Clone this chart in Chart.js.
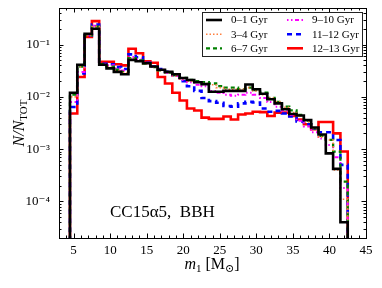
<!DOCTYPE html>
<html lang="en">
<head>
<meta charset="UTF-8">
<title>CC15a5 BBH m1</title>
<script src="https://cdn.jsdelivr.net/npm/chart.js"></script>
<style>
  html, body { margin: 0; padding: 0; background: #fff; }
  canvas { display: block; }
</style>
</head>
<body>
<canvas id="massChart" width="382" height="288"></canvas>
<script>
// bin centres (M_sun), one value per bin for every age slice
const massBins = [5, 6, 7, 8, 9, 10, 11, 12, 13, 14, 15, 16, 17, 18, 19, 20, 21, 22, 23,
  24, 25, 26, 27, 28, 29, 30, 31, 32, 33, 34, 35, 36, 37, 38, 39, 40, 41, 42];

const gyr0to1 = [0.012, 0.041, 0.16, 0.20, 0.041, 0.035, 0.030, 0.027, 0.051, 0.048, 0.044, 0.038,
  0.033, 0.030, 0.027, 0.023, 0.021, 0.019, 0.0175, 0.0125, 0.0125, 0.013, 0.013, 0.013, 0.0172, 0.014,
  0.0115, 0.009, 0.0075, 0.0058, 0.0047, 0.0044, 0.0036, 0.0026, 0.0019, 0.00083, 0.00042, 0.00004];
const gyr3to4 = [0.010, 0.037, 0.15, 0.22, 0.041, 0.037, 0.032, 0.029, 0.054, 0.049, 0.043, 0.037,
  0.032, 0.029, 0.025, 0.022, 0.020, 0.019, 0.018, 0.017, 0.015, 0.014, 0.014, 0.014, 0.015, 0.013,
  0.011, 0.0095, 0.008, 0.0063, 0.005, 0.0043, 0.0033, 0.0025, 0.0017, 0.0015, 0.0004, 0.00011];
const gyr6to7 = [0.011, 0.038, 0.15, 0.22, 0.042, 0.038, 0.033, 0.030, 0.055, 0.050, 0.043, 0.037,
  0.032, 0.029, 0.026, 0.023, 0.021, 0.020, 0.019, 0.018, 0.016, 0.015, 0.015, 0.014, 0.015, 0.0135,
  0.012, 0.0095, 0.008, 0.0065, 0.0055, 0.0045, 0.0035, 0.0025, 0.0018, 0.0015, 0.0009, 0.00024];
const gyr9to10 = [0.008, 0.030, 0.15, 0.23, 0.042, 0.040, 0.035, 0.032, 0.058, 0.052, 0.044, 0.038,
  0.033, 0.029, 0.025, 0.021, 0.019, 0.017, 0.016, 0.013, 0.012, 0.011, 0.0105, 0.011, 0.012, 0.011,
  0.0095, 0.008, 0.0065, 0.0055, 0.0045, 0.0035, 0.0027, 0.0021, 0.0016, 0.0012, 0.0007, 0.00018];
const gyr11to12 = [0.0064, 0.028, 0.15, 0.24, 0.043, 0.042, 0.037, 0.034, 0.065, 0.057, 0.045, 0.038,
  0.034, 0.030, 0.026, 0.020, 0.016, 0.013, 0.0095, 0.0083, 0.0077, 0.0067, 0.0065, 0.0075, 0.008, 0.0078,
  0.006, 0.0052, 0.0054, 0.0048, 0.0042, 0.0034, 0.003, 0.0025, 0.0021, 0.0021, 0.0015, 0.0005];
const gyr12to13 = [0.0048, 0.024, 0.14, 0.28, 0.047, 0.047, 0.042, 0.040, 0.083, 0.068, 0.048, 0.045,
  0.024, 0.018, 0.012, 0.0085, 0.006, 0.0055, 0.004, 0.0038, 0.0038, 0.0042, 0.0037, 0.0046, 0.0048, 0.0052,
  0.0051, 0.0043, 0.005, 0.005, 0.0043, 0.0037, 0.003, 0.0024, 0.0033, 0.0033, 0.002, 0.0009];

const seriesLabels = ['0–1 Gyr', '3–4 Gyr', '6–7 Gyr', '9–10 Gyr', '11–12 Gyr', '12–13 Gyr'];
const xTickValues = [5, 10, 15, 20, 25, 30, 35, 40, 45];
const yTickValues = [1e-4, 1e-3, 1e-2, 1e-1];
const yTickLabels = ['10⁻⁴', '10⁻³', '10⁻²', '10⁻¹'];

const serif = "'Liberation Serif', 'DejaVu Serif', serif";
const looks = [
  { color: '#000000', width: 2.6, dash: [] },
  { color: '#ff8040', width: 1.6, dash: [1.5, 2] },
  { color: '#008000', width: 2.3, dash: [4, 3] },
  { color: '#ff00ff', width: 2.0, dash: [1.5, 2.5, 1.5, 2.5, 4, 2.5] },
  { color: '#0000ff', width: 2.6, dash: [5, 4] },
  { color: '#ff0000', width: 2.6, dash: [] }
];
const allSeries = [gyr0to1, gyr3to4, gyr6to7, gyr9to10, gyr11to12, gyr12to13];

// histogram outline: one point per left bin edge, closed down to the floor at both ends
function stepPoints(vals) {
  const floor = 1e-7;
  const pts = [{ x: massBins[0] - 0.5, y: floor }];
  massBins.forEach((c, i) => pts.push({ x: c - 0.5, y: vals[i] }));
  const last = massBins[massBins.length - 1] + 0.5;
  pts.push({ x: last, y: vals[vals.length - 1] });
  pts.push({ x: last, y: floor });
  return pts;
}

const datasets = allSeries.map((vals, i) => ({
  label: seriesLabels[i],
  data: stepPoints(vals),
  stepped: 'before',
  borderColor: looks[i].color,
  borderWidth: looks[i].width,
  borderDash: looks[i].dash,
  borderJoinStyle: 'miter',
  borderCapStyle: 'butt',
  pointRadius: 0,
  fill: false
}));

function drawRich(ctx, parts, x, y, align) {
  // parts: [text, size, italic, dy]
  let total = 0;
  parts.forEach(p => {
    ctx.font = (p[2] ? 'italic ' : '') + p[1] + 'px ' + serif;
    total += ctx.measureText(p[0]).width;
  });
  let cx = align === 'center' ? x - total / 2 : x;
  parts.forEach(p => {
    ctx.font = (p[2] ? 'italic ' : '') + p[1] + 'px ' + serif;
    ctx.fillText(p[0], cx, y + (p[3] || 0));
    cx += ctx.measureText(p[0]).width;
  });
}

const decorPlugin = {
  id: 'decor',
  afterDatasetsDraw(chart) {
    const { ctx, chartArea: a, scales } = chart;
    const xs = scales.x, ys = scales.y;
    ctx.save();
    ctx.strokeStyle = '#000';
    ctx.fillStyle = '#000';
    ctx.lineWidth = 1;
    ctx.setLineDash([]);

    // inward ticks on all four sides
    const tick = (x1, y1, x2, y2) => { ctx.beginPath(); ctx.moveTo(x1, y1); ctx.lineTo(x2, y2); ctx.stroke(); };
    for (let v = 3; v <= 45; v++) {
      const px = Math.round(xs.getPixelForValue(v)) + 0.5;
      const len = v % 5 === 0 ? 4.5 : 2.5;
      tick(px, a.bottom, px, a.bottom - len);
      tick(px, a.top, px, a.top + len);
    }
    for (let e = -5; e <= 0; e++) {
      for (let m = 1; m <= 9; m++) {
        const v = m * Math.pow(10, e);
        if (v < ys.min * 0.999 || v > ys.max * 1.001) continue;
        const py = Math.round(ys.getPixelForValue(v)) + 0.5;
        const len = m === 1 ? 4.5 : 2.5;
        tick(a.left, py, a.left + len, py);
        tick(a.right, py, a.right - len, py);
      }
    }
    ctx.strokeRect(Math.round(a.left) + 0.5, Math.round(a.top) + 0.5,
      Math.round(a.right - a.left), Math.round(a.bottom - a.top));

    // legend box, two columns
    ctx.fillStyle = '#fff';
    ctx.fillRect(202.5, 12.5, 160, 44);
    ctx.strokeStyle = '#222';
    ctx.strokeRect(202.5, 12.5, 160, 44);
    const cols = [206, 287], rows = [20, 34.3, 48.3];
    ctx.textBaseline = 'middle';
    ctx.textAlign = 'left';
    chart.data.datasets.forEach((ds, i) => {
      const cx = cols[Math.floor(i / 3)], cy = rows[i % 3];
      ctx.strokeStyle = ds.borderColor;
      ctx.lineWidth = ds.borderWidth;
      ctx.setLineDash(ds.borderDash);
      tick(cx, cy, cx + 16, cy);
      ctx.setLineDash([]);
      ctx.fillStyle = '#000';
      ctx.font = '11px ' + serif;
      ctx.fillText(ds.label, cx + 25, cy + 0.5);
    });

    // annotation and axis titles
    ctx.textBaseline = 'alphabetic';
    ctx.fillStyle = '#000';
    ctx.font = '17px ' + serif;
    ctx.fillText('CC15α5,  BBH', 110, 217);

    drawRich(ctx, [['m', 16, true], ['1', 11, false, 3], [' [M', 16, false], ['⊙', 11, false, 3], [']', 16, false]],
      212, 269, 'center');

    ctx.translate(24, (a.top + a.bottom) / 2);
    ctx.rotate(-Math.PI / 2);
    drawRich(ctx, [['N/N', 16, true], ['TOT', 11, false, 3]], 0, 0, 'center');
    ctx.restore();
  }
};

new Chart(document.getElementById('massChart'), {
  type: 'line',
  data: { datasets },
  options: {
    responsive: false,
    animation: false,
    devicePixelRatio: 1,
    layout: { padding: { top: 8, right: 16, left: 0, bottom: 0 } },
    plugins: { legend: { display: false }, tooltip: { enabled: false } },
    scales: {
      x: {
        type: 'linear',
        min: 3,
        max: 45,
        afterBuildTicks: s => { s.ticks = xTickValues.map(v => ({ value: v })); },
        afterFit: s => { s.height = 50; s.paddingLeft = 0; s.paddingRight = 0; },
        grid: { display: false, drawTicks: false },
        border: { display: false },
        ticks: { color: '#000', font: { family: serif, size: 13 }, padding: 5, maxRotation: 0, autoSkip: false }
      },
      y: {
        type: 'logarithmic',
        min: 2e-5,
        max: 0.5,
        afterBuildTicks: s => { s.ticks = yTickValues.map(v => ({ value: v })); },
        afterFit: s => { s.width = 59; s.paddingTop = 0; s.paddingBottom = 0; },
        grid: { display: false, drawTicks: false },
        border: { display: false },
        ticks: {
          color: '#000',
          font: { family: serif, size: 13 },
          padding: 9,
          autoSkip: false,
          callback: v => {
            const i = yTickValues.findIndex(t => Math.abs(Math.log10(t) - Math.log10(v)) < 1e-6);
            return i >= 0 ? yTickLabels[i] : '';
          }
        }
      }
    }
  },
  plugins: [decorPlugin]
});
</script>
</body>
</html>
